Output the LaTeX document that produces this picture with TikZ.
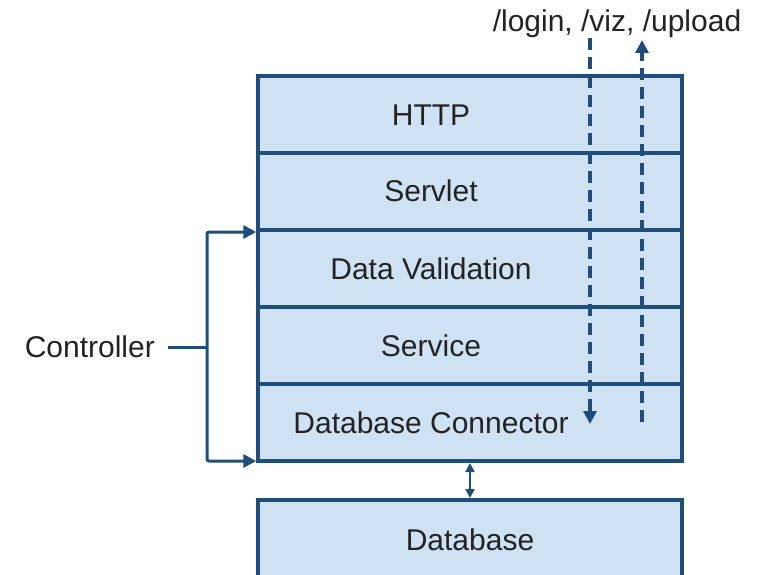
\documentclass[tikz,border=0pt]{standalone}
\usepackage{fontspec}
\setmainfont{Liberation Sans}
\usetikzlibrary{arrows.meta}
\definecolor{layerfill}{RGB}{207,226,243}
\definecolor{layerdraw}{RGB}{30,78,121}
\definecolor{txt}{RGB}{35,35,35}
\begin{document}
\begin{tikzpicture}[x=1pt,y=-1pt,
  layer/.style={draw=layerdraw,fill=layerfill,line width=3.4pt,minimum width=424pt,minimum height=77pt,inner sep=0pt},
  lbl/.style={font=\fontsize{30}{35}\selectfont,text=txt,inner sep=0pt},
  conn/.style={draw=layerdraw,line width=3pt},
  tip/.style={-{Triangle[length=13pt,width=13pt]}},
  flow/.style={conn,line width=3.4pt,dash pattern=on 12pt off 7pt}]
\useasboundingbox (0,0) rectangle (761,575);
\clip (0,0) rectangle (761,575);
\node[layer] (http) at (470,114.5) {};
\node[layer] (servlet) at (470,191.5) {};
\node[layer] (valid) at (470,268.5) {};
\node[layer] (service) at (470,345.5) {};
\node[layer] (dbc) at (470,422.5) {};
\node[layer,minimum height=100pt] (db) at (470,550) {};
\node[lbl] (thttp) at (431,115) {HTTP};
\node[lbl] (tservlet) at (431,191) {Servlet};
\node[lbl] (tvalid) at (431,269) {Data Validation};
\node[lbl] (tservice) at (431,346) {Service};
\node[lbl] (tdbc) at (431,423) {Database Connector};
\node[lbl] (tdb) at (470,540) {Database};
\node[lbl,anchor=east] (ctrl) at (155,347) {Controller};
\node[lbl,anchor=center] (urls) at (617,24) {/login, /viz, /upload};
% controller bracket
\coordinate (cj) at (207,347);
\coordinate (ctop) at (207,232);
\coordinate (cbot) at (207,461);
\draw[conn] (ctrl.east) ++(13,0) -- (cj);
\draw[conn,tip,rounded corners=2pt] (cj) -- (ctop) -- (ctop -| valid.west);
\draw[conn,tip,rounded corners=2pt] (cj) -- (cbot) -- (cbot -| dbc.west);
% database link
\draw[conn,line width=2pt,{Triangle[length=9pt,width=9pt]}-{Triangle[length=9pt,width=9pt]}] (470,463) -- (470,498);
% request flows
\coordinate (reqtop) at (590,38);
\coordinate (reqbot) at (590,424);
\coordinate (resbot) at (642,422);
\coordinate (restop) at (642,40);
\draw[flow,tip] (reqtop) -- (reqbot);
\draw[flow,tip] (resbot) -- (restop);
\end{tikzpicture}
\end{document}
